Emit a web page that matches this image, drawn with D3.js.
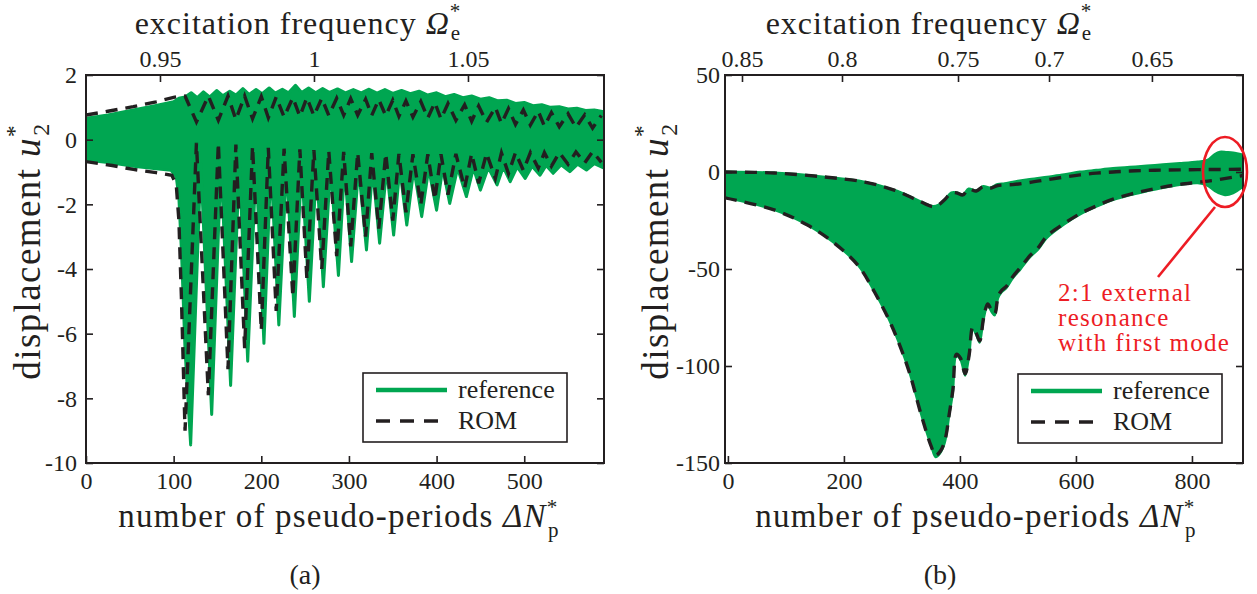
<!DOCTYPE html>
<html>
<head>
<meta charset="utf-8">
<script src="https://cdn.jsdelivr.net/npm/d3@7"></script>
<style>
body { margin: 0; background: #fff; }
svg { display: block; }
text { font-family: "Liberation Serif", "Times New Roman", serif; fill: #231f20; }
</style>
</head>
<body>
<svg id="fig" width="1257" height="594"></svg>
<script>
// ---------- panel (a) : envelopes [N, u2] ----------
var refTopA = [[0,0.66],[25,0.76],[54,0.92],[80,1.06],[100,1.17],[106,1.28],[113,1.32],[120,1.45],[127,1.3],[134,1.48],[141,1.32],[149,1.52],[156,1.36],[164,1.5],[171,1.38],[179,1.58],[186,1.4],[194,1.55],[201,1.42],[209,1.6],[216,1.44],[224,1.56],[231,1.45],[239,1.68],[246,1.46],[254,1.6],[262,1.45],[270,1.58],[278,1.46],[287,1.57],[296,1.45],[305,1.55],[314,1.45],[323,1.56],[332,1.44],[341,1.55],[350,1.43],[360,1.52],[370,1.42],[380,1.5],[390,1.38],[400,1.45],[410,1.33],[420,1.4],[430,1.3],[440,1.35],[450,1.25],[460,1.3],[470,1.2],[480,1.22],[490,1.12],[500,1.15],[510,1.05],[520,1.08],[530,1.0],[540,1.02],[550,0.95],[560,0.97],[570,0.9],[580,0.92],[591,0.86]];

var refBotA = [[0,-0.63],[30,-0.72],[54,-0.82],[80,-0.9],[97,-0.95],[103,-1.15],[106,-1.8],[109,-3.5],[113,-6.5],[119.4,-9.44],
  [131,-0.75],[143.4,-8.5],[154,-0.75],[165,-7.6],[175,-0.75],[184.5,-6.85],[194,-0.78],[203,-6.3],[211,-0.8],[220,-5.73],
  [229,-0.8],[237.7,-5.47],[246,-0.82],[254.8,-5.0],[263,-0.85],[270.8,-4.55],[279,-0.85],[288,-4.2],[295,-0.88],[303,-3.77],
  [311,-0.88],[320,-3.41],[327,-0.9],[335,-3.2],[343,-0.9],[351,-2.95],[358,-0.9],[366,-2.64],[374,-0.9],[383,-2.38],
  [391,-0.9],[400,-2.18],[407,-0.88],[415,-1.97],[424,-0.88],[434,-1.76],[442,-0.88],[450,-1.56],[459,-0.86],[469,-1.4],
  [476,-0.85],[484,-1.3],[492,-0.84],[501,-1.2],[509,-0.82],[518,-1.1],[525,-0.8],[533,-1.04],[542,-0.78],[552,-0.99],
  [561,-0.76],[571,-0.94],[580,-0.74],[591,-0.88]];

var romTopA = [[0,0.76],[25,0.88],[54,1.02],[80,1.17],[100,1.31],[110,1.36],[113,1.35],[126,0.55],[139.6,1.35],[151,0.6],
  [162,1.35],[171,0.62],[181,1.35],[190,0.65],[200,1.33],[208,0.68],[217,1.32],[226,0.7],[236,1.3],[244,0.72],[252,1.3],
  [260,0.74],[269,1.28],[277,0.75],[286,1.28],[294,0.76],[302,1.27],[310,0.76],[319,1.25],[326,0.75],[334,1.24],[342,0.74],
  [350,1.22],[357,0.72],[365,1.2],[373,0.7],[382,1.18],[390,0.67],[398,1.15],[405,0.64],[413,1.12],[422,0.6],[432,1.08],
  [440,0.57],[448,1.04],[457,0.54],[467,1.0],[474,0.5],[482,0.96],[490,0.47],[499,0.92],[507,0.45],[516,0.88],[523,0.42],
  [531,0.84],[540,0.4],[550,0.8],[559,0.38],[569,0.77],[578,0.36],[588,0.75]];

var romBotA = [[0,-0.68],[30,-0.8],[54,-0.92],[80,-1.02],[98,-1.1],[103,-1.4],[106,-2.5],[109,-5],[113,-9.0],
  [126,-0.1],[139.6,-7.9],[151,-0.1],[162,-7.1],[171,-0.15],[181,-6.45],[190,-0.2],[200,-5.9],[208,-0.25],[217,-5.3],
  [226,-0.28],[236,-4.86],[244,-0.3],[252,-4.3],[260,-0.32],[269,-4.0],[277,-0.35],[286,-3.6],[294,-0.38],[302,-3.3],
  [310,-0.4],[319,-3.0],[326,-0.42],[334,-2.75],[342,-0.43],[350,-2.5],[357,-0.44],[365,-2.25],[373,-0.45],[382,-2.0],
  [390,-0.45],[398,-1.85],[405,-0.45],[413,-1.7],[422,-0.44],[432,-1.5],[440,-0.43],[448,-1.35],[457,-0.42],[467,-1.2],
  [474,-0.41],[482,-1.05],[490,-0.4],[499,-0.95],[507,-0.4],[516,-0.88],[523,-0.4],[531,-0.82],[540,-0.4],[550,-0.76],
  [559,-0.38],[569,-0.72],[578,-0.37],[588,-0.7]];

var nTicksA = [0, 100, 200, 300, 400, 500];
var uTicksA = [2, 0, -2, -4, -6, -8, -10];
var omegaLabelsA = ["0.95", "1", "1.05"];
var omegaAtNA = [84.4, 260.1, 435.8];

// ---------- panel (b) ----------
var refTopB = [[-5,0.3],[80,-0.3],[167,-2.4],[236,-5],[288,-9.3],[328,-14.5],[353,-17.5],[362,-17],[374,-14],[385,-10.5],
  [395,-10.5],[405,-11.5],[415,-8.5],[428,-9.5],[440,-7.2],[452,-8],[465,-6.2],[477,-5.8],[491,-5],[520,-3.6],[550,-2.4],
  [580,-1.2],[607,0.2],[635,1.1],[664,2],[693,2.7],[722,3.3],[750,4],[779,4.6],[810,5.4],[826,6.2],[838,9],[848,10.5],
  [860,10.3],[871,10],[888,9]];

var refBotB = [[-5,-13.3],[81,-19.7],[138,-27.5],[184,-36.8],[224,-48],[253,-62],[282,-79],[311,-101.6],[334,-126],
  [350,-141],[358,-147],[366,-145],[374,-139.7],[382,-125],[388,-113.8],[394,-95],[401,-97],[409,-105],[416,-95],[422,-81],
  [428,-84],[434,-88],[441,-76],[448,-69],[454,-72],[460,-74],[466,-65],[472,-62],[480,-60],[491,-55],[505,-50],[521,-44],
  [535,-40],[550,-34],[580,-27],[607,-22],[635,-18],[664,-14.5],[693,-12],[722,-10],[750,-8.2],[779,-6.7],[810,-5.8],
  [826,-7],[840,-10],[857,-12],[871,-11],[888,-7.6]];

var romTopB = [[-5,0],[80,-0.5],[167,-2.6],[236,-5.2],[288,-9.5],[328,-14.7],[353,-17.8],[362,-17.2],[374,-14.2],[385,-10.8],
  [395,-10.8],[405,-11.8],[415,-8.8],[428,-9.8],[440,-7.6],[452,-8.4],[465,-7],[491,-6.5],[520,-5.4],[550,-4],[580,-2.6],
  [607,-1.5],[635,-0.6],[664,0],[693,0.5],[722,0.8],[750,1],[779,1.1],[810,1.2],[840,1.3],[888,1.4]];

var romBotB = [[-5,-13.3],[81,-19.7],[138,-27.5],[184,-36.8],[224,-48],[253,-62],[282,-79],[311,-101.6],[334,-126],
  [350,-141],[358,-146],[366,-144],[374,-138.5],[382,-124],[388,-112],[394,-94],[401,-96],[409,-104],[416,-94],[422,-80],
  [428,-83],[434,-87],[441,-75],[448,-68],[454,-71],[460,-73],[466,-64],[472,-61],[480,-59],[491,-54],[505,-49],[521,-43],
  [535,-39],[550,-33],[580,-26.5],[607,-21.5],[635,-17.5],[664,-14],[693,-11.5],[722,-9.5],[750,-7.8],[779,-6.4],
  [810,-5.3],[840,-4.2],[888,-1.8]];

var nTicksB = [0, 200, 400, 600, 800];
var uTicksB = [50, 0, -50, -100, -150];
var omegaLabelsB = ["0.85", "0.8", "0.75", "0.7", "0.65"];
var omegaAtNB = [24.3, 196.7, 396.7, 553.6, 731];

var legendNames = ["reference", "ROM"];
var noteLines = ["2:1 external", "resonance", "with first mode"];

var GREEN = "#00a651", INK = "#231f20", RED = "#ed1c24";
var svg = d3.select("#fig");

// text with a stacked superscript * and a subscript, as in the paper
function mathLabel(g, main, sym, sup, sub, size, supRaise, subDrop) {
  var small = Math.round(size * 0.65);
  g.append("tspan").text(main);
  g.append("tspan").style("font-style", "italic").text(sym);
  g.append("tspan").attr("font-size", small).attr("dy", -size * supRaise).text(sup);
  g.append("tspan").attr("font-size", small).attr("dx", -small * 0.5)
    .attr("dy", size * (supRaise + subDrop)).text(sub);
}

function drawPanel(p) {
  var x = d3.scaleLinear().domain(p.xDomain).range([p.left, p.right]);
  var y = d3.scaleLinear().domain(p.yDomain).range([p.bottom, p.top]);
  var g = svg.append("g");

  g.append("clipPath").attr("id", "clip" + p.id)
    .append("rect").attr("x", p.left).attr("y", p.top)
    .attr("width", p.right - p.left).attr("height", p.bottom - p.top);

  var line = d3.line().x(function(d) { return x(d[0]); }).y(function(d) { return y(d[1]); }).curve(p.curve);
  var plot = g.append("g").attr("clip-path", "url(#clip" + p.id + ")");

  var band = line(p.refTop) + line(p.refBot.slice().reverse()).replace(/^M/, "L") + "Z";
  plot.append("path").attr("d", band)
    .attr("fill", GREEN).attr("stroke", GREEN).attr("stroke-width", p.greenWidth)
    .attr("stroke-linejoin", "round");

  [p.romTop, p.romBot].forEach(function(s) {
    plot.append("path").attr("d", line(s))
      .attr("fill", "none").attr("stroke", INK).attr("stroke-width", 3.4)
      .attr("stroke-dasharray", "12,8");
  });

  // axes, ticks pointing inward
  var bottomAxis = d3.axisBottom(x).tickValues(p.nTicks).tickFormat(function(d) { return String(d); })
    .tickSizeInner(-7).tickSizeOuter(0).tickPadding(9);
  var leftAxis = d3.axisLeft(y).tickValues(p.uTicks).tickFormat(function(d) { return String(d); })
    .tickSizeInner(-7).tickSizeOuter(0).tickPadding(p.yPad);
  var rightAxis = d3.axisRight(y).tickValues(p.uTicks).tickFormat("").tickSizeInner(-7).tickSizeOuter(0);
  var topAxis = d3.axisTop(x).tickValues(p.omegaAtN)
    .tickFormat(function(d, i) { return p.omegaLabels[i]; })
    .tickSizeInner(-7).tickSizeOuter(0).tickPadding(8);

  var axes = [
    [bottomAxis, "translate(0," + p.bottom + ")"],
    [leftAxis, "translate(" + p.left + ",0)"],
    [rightAxis, "translate(" + p.right + ",0)"],
    [topAxis, "translate(0," + p.top + ")"]
  ];
  axes.forEach(function(a) {
    var ag = g.append("g").attr("transform", a[1]).call(a[0]);
    ag.select(".domain").remove();
    ag.selectAll(".tick line").attr("stroke", INK).attr("stroke-width", 1.6);
    ag.selectAll(".tick text").attr("font-size", 24).attr("font-family", null).attr("fill", INK);
  });

  g.append("rect").attr("x", p.left).attr("y", p.top)
    .attr("width", p.right - p.left).attr("height", p.bottom - p.top)
    .attr("fill", "none").attr("stroke", INK).attr("stroke-width", 2);

  // axis titles
  var t = g.append("text").attr("x", p.titleX).attr("y", 34).attr("text-anchor", "middle")
    .attr("font-size", 32).attr("letter-spacing", 1);
  mathLabel(t, "excitation frequency ", "\u03A9", "*", "e", 32, 0.5, 0.18);

  var b = g.append("text").attr("x", p.xLabelX).attr("y", 527).attr("text-anchor", "middle")
    .attr("font-size", 33).attr("letter-spacing", 1.2);
  mathLabel(b, "number of pseudo-periods ", "\u0394N", "*", "p", 33, 0.4, 0.3);

  var l = g.append("text").attr("text-anchor", "middle").attr("font-size", 37).attr("letter-spacing", 1.4)
    .attr("transform", "translate(" + p.yLabelX + ",251) rotate(-90)");
  mathLabel(l, "displacement ", "u", "*", "2", 37, 0.5, 0.24);

  g.append("text").attr("x", p.tagX).attr("y", 584).attr("text-anchor", "middle")
    .attr("font-size", 28).text(p.tag);

  // legend
  var lg = g.append("g").attr("transform", "translate(" + p.legX + "," + p.legY + ")");
  lg.append("rect").attr("width", 204).attr("height", 69)
    .attr("fill", "#fff").attr("stroke", INK).attr("stroke-width", 1.6);
  legendNames.forEach(function(name, i) {
    var ly = 17 + i * 31;
    lg.append("line").attr("x1", 13).attr("x2", 84).attr("y1", ly).attr("y2", ly)
      .attr("stroke", i === 0 ? GREEN : INK).attr("stroke-width", i === 0 ? 4.5 : 3.6)
      .attr("stroke-dasharray", i === 0 ? null : "14,10");
    lg.append("text").attr("x", 95).attr("y", ly + 8).attr("font-size", 26).text(name);
  });

  return { x: x, y: y, g: g };
}

drawPanel({
  id: "a", left: 86, right: 604, top: 75, bottom: 463,
  xDomain: [0, 591], yDomain: [-10, 2], curve: d3.curveLinear, greenWidth: 3,
  refTop: refTopA, refBot: refBotA, romTop: romTopA, romBot: romBotA,
  nTicks: nTicksA, uTicks: uTicksA, omegaAtN: omegaAtNA, omegaLabels: omegaLabelsA,
  yPad: 9, titleX: 298, xLabelX: 339, yLabelX: 40, tagX: 305, tag: "(a)",
  legX: 363, legY: 373
});

var pb = drawPanel({
  id: "b", left: 725, right: 1243, top: 75, bottom: 463,
  xDomain: [-5, 888], yDomain: [-150, 50], curve: d3.curveCatmullRom, greenWidth: 2,
  refTop: refTopB, refBot: refBotB, romTop: romTopB, romBot: romBotB,
  nTicks: nTicksB, uTicks: uTicksB, omegaAtN: omegaAtNB, omegaLabels: omegaLabelsB,
  yPad: 5, titleX: 929, xLabelX: 976, yLabelX: 668, tagX: 940, tag: "(b)",
  legX: 1018, legY: 374
});

// annotation of the 2:1 resonance
var note = pb.g.append("g");
note.append("ellipse").attr("cx", 1225).attr("cy", 172).attr("rx", 22).attr("ry", 35)
  .attr("fill", "none").attr("stroke", RED).attr("stroke-width", 2.6);
note.append("line").attr("x1", 1215).attr("y1", 207).attr("x2", 1158).attr("y2", 277)
  .attr("stroke", RED).attr("stroke-width", 2.6);
noteLines.forEach(function(s, i) {
  note.append("text").attr("x", 1058).attr("y", 301 + i * 25)
    .attr("font-size", 25).attr("letter-spacing", 1.3).style("fill", RED).text(s);
});
</script>
</body>
</html>
